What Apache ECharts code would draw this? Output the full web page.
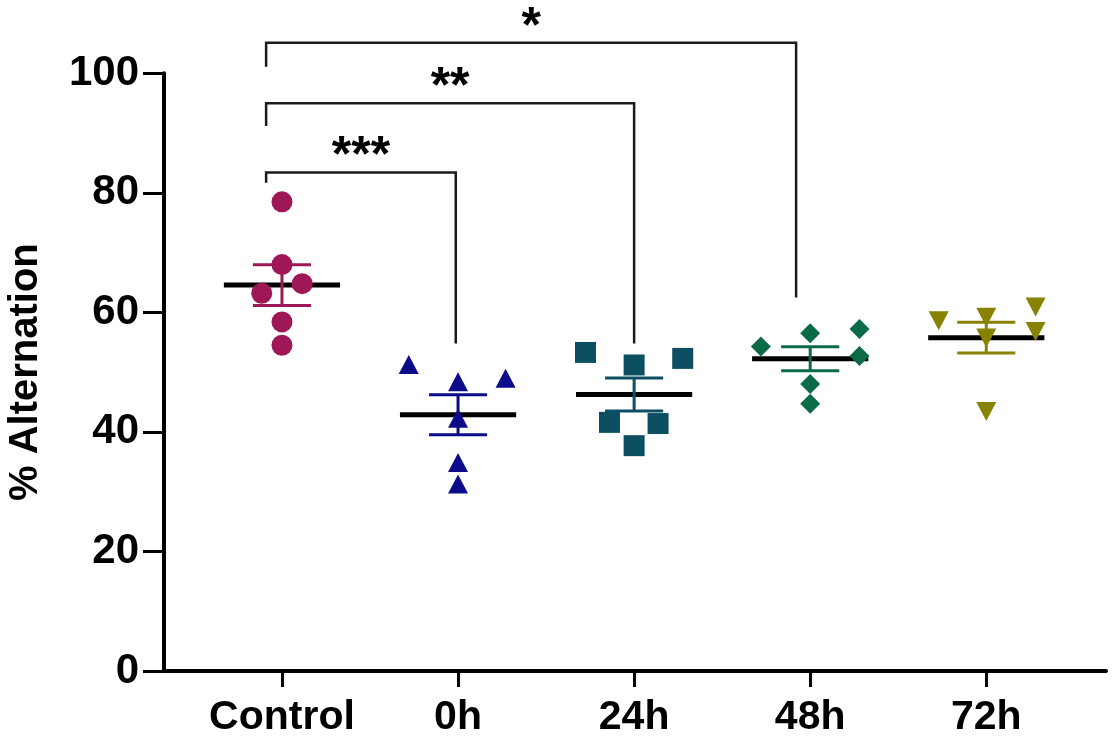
<!DOCTYPE html>
<html><head><meta charset="utf-8">
<script src="https://cdn.jsdelivr.net/npm/echarts@6/dist/echarts.min.js"></script>
<style>html,body{margin:0;padding:0;background:#fff}#c{width:1113px;height:736px}</style>
</head><body><div id="c"></div>
<script>
const categories = ['Control', '0h', '24h', '48h', '72h'];
const yTicks = [0, 20, 40, 60, 80, 100];
const controlValues = [78.5, 68.0, 64.8, 63.2, 58.4, 54.5];
const h0Values = [51.3, 48.4, 49.0, 42.3, 34.9, 31.3];
const h24Values = [53.3, 51.2, 52.3, 41.6, 41.4, 37.7];
const h48Values = [54.3, 56.5, 57.2, 52.7, 48.0, 44.7];
const h72Values = [58.6, 59.2, 60.9, 56.8, 55.7, 43.4];
const sigLabels = ['***', '**', '*'];
const sigFrom = [0, 0, 0];
const sigTo = [1, 2, 3];
const sigLineY = [83.4, 95.0, 105.1];
const sigLeftEnd = [81.7, 91.2, 101.1];
const sigRightEnd = [54.8, 54.8, 62.5];

// layout: horizontal scatter of points inside each group (category units)
const jitter = [
  [0, 0, 0.115, -0.115, 0, 0],
  [-0.28, 0, 0.27, 0, 0, 0],
  [-0.276, 0, 0.276, -0.14, 0.136, 0],
  [-0.28, 0, 0.28, 0.28, 0, 0],
  [-0.27, 0, 0.28, 0.28, 0, 0]
];
const sigLeftShift = [-0.09, -0.09, -0.09];
const sigRightShift = [-0.013, 0, -0.08];

const groups = [controlValues, h0Values, h24Values, h48Values, h72Values];
const colors = ['#9E1757', '#0C0C8A', '#0C4F63', '#0C6B47', '#878200'];
const symbols = ['circle', 'triangle', 'rect', 'diamond', 'triangle'];
const sizes = [21, [20, 19], 21, [20, 20], [20, 19]];
const rotates = [0, 0, 0, 0, 180];

function mean(a) { return a.reduce((s, v) => s + v, 0) / a.length; }
function sem(a) {
  const m = mean(a);
  const v = a.reduce((s, x) => s + (x - m) * (x - m), 0) / (a.length - 1);
  return Math.sqrt(v / a.length);
}
const means = groups.map(mean);
const sems = groups.map(sem);

const FONT = '"Liberation Sans", Arial, sans-serif';
const chart = echarts.init(document.getElementById('c'), null, {renderer: 'canvas'});

const series = [];
// mean lines (under the points)
series.push({
  type: 'custom', z: 1, silent: true,
  data: means.map((m, i) => [i, m]),
  renderItem(params, api) {
    const i = api.value(0), m = api.value(1);
    const a = api.coord([i - 0.33, m]), b = api.coord([i + 0.33, m]);
    return {type: 'line', shape: {x1: a[0], y1: a[1], x2: b[0], y2: b[1]},
      style: {stroke: '#000', lineWidth: 5}};
  }
});
groups.forEach((vals, gi) => {
  series.push({
    type: 'scatter', z: 2, silent: true,
    symbol: symbols[gi], symbolSize: sizes[gi], symbolRotate: rotates[gi],
    itemStyle: {color: colors[gi], opacity: 1},
    data: vals.map((v, k) => [gi + jitter[gi][k], v])
  });
});
// SEM error bars (above the points)
series.push({
  type: 'custom', z: 3, silent: true,
  data: means.map((m, i) => [i, m, sems[i]]),
  renderItem(params, api) {
    const i = api.value(0), m = api.value(1), s = api.value(2);
    const c = colors[params.dataIndex];
    const top = api.coord([i, m + s]), bot = api.coord([i, m - s]);
    const tl = api.coord([i - 0.165, m + s]), tr = api.coord([i + 0.165, m + s]);
    const bl = api.coord([i - 0.165, m - s]), br = api.coord([i + 0.165, m - s]);
    const st = {stroke: c, lineWidth: 3};
    return {type: 'group', children: [
      {type: 'line', shape: {x1: top[0], y1: top[1], x2: bot[0], y2: bot[1]}, style: st},
      {type: 'line', shape: {x1: tl[0], y1: tl[1], x2: tr[0], y2: tr[1]}, style: st},
      {type: 'line', shape: {x1: bl[0], y1: bl[1], x2: br[0], y2: br[1]}, style: st}
    ]};
  }
});
// significance brackets
series.push({
  type: 'custom', z: 4, silent: true, clip: false,
  data: sigLabels.map((l, k) => [sigFrom[k] + sigLeftShift[k], sigLineY[k], sigTo[k] + sigRightShift[k], sigLeftEnd[k], sigRightEnd[k]]),
  renderItem(params, api) {
    const k = params.dataIndex;
    const xl = api.value(0), y = api.value(1), xr = api.value(2);
    const p1 = api.coord([xl, api.value(3)]), p2 = api.coord([xl, y]);
    const p3 = api.coord([xr, y]), p4 = api.coord([xr, api.value(4)]);
    return {type: 'group', children: [
      {type: 'polyline', shape: {points: [p1, p2, p3, p4]},
        style: {stroke: '#1a1a1a', lineWidth: 2.5, fill: null}},
      {type: 'text', x: (p2[0] + p3[0]) / 2, y: p2[1] + 10,
        style: {text: sigLabels[k], fill: '#000', fontSize: 50, fontWeight: 'bold', fontFamily: FONT,
          align: 'center', verticalAlign: 'bottom'}}
    ]};
  }
});

chart.setOption({
  animation: false,
  backgroundColor: '#fff',
  grid: {left: 164, right: 7, top: 73.3, bottom: 65, containLabel: false, outerBoundsMode: 'none'},
  xAxis: {
    type: 'value', min: -0.67, max: 4.68,
    axisLine: {show: true, onZero: false, lineStyle: {color: '#000', width: 4}},
    axisTick: {show: true, customValues: [0, 1, 2, 3, 4], length: 16, lineStyle: {color: '#000', width: 3}},
    axisLabel: {show: true, customValues: [0, 1, 2, 3, 4], formatter: v => categories[Math.round(v)],
      color: '#000', fontSize: 41, fontWeight: 'bold', fontFamily: FONT, margin: 26},
    splitLine: {show: false}
  },
  yAxis: {
    type: 'value', min: 0, max: 100, interval: 20,
    name: '% Alternation', nameLocation: 'middle', nameGap: 118,
    nameTextStyle: {color: '#000', fontSize: 40, fontWeight: 'bold', fontFamily: FONT},
    axisLine: {show: true, onZero: false, lineStyle: {color: '#000', width: 4}},
    axisTick: {show: true, length: 21, lineStyle: {color: '#000', width: 3}},
    axisLabel: {color: '#000', fontSize: 42, fontWeight: 'bold', fontFamily: FONT, margin: 25,
      formatter: v => yTicks.includes(v) ? String(v) : ''},
    splitLine: {show: false}
  },
  series
});
</script></body></html>
